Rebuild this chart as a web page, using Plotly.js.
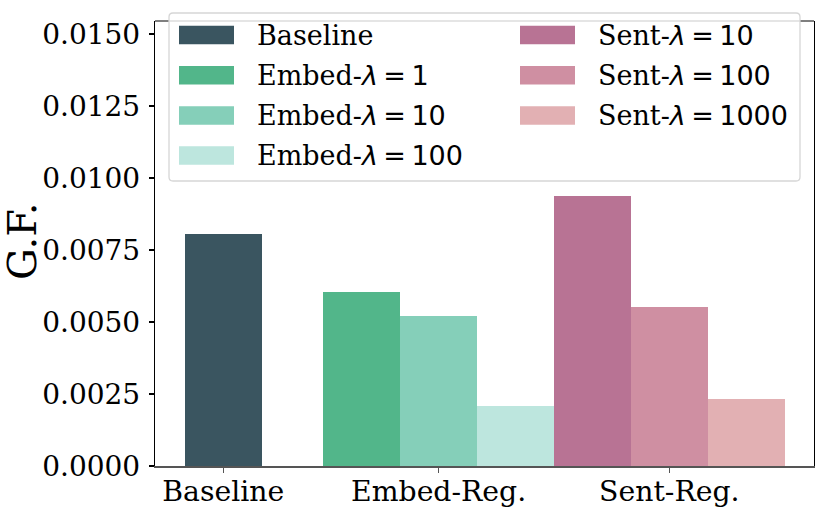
<!DOCTYPE html>
<html>
<head>
<meta charset="utf-8">
<script src="https://cdn.plot.ly/plotly-3.0.1.min.js"></script>
<style>html,body{margin:0;padding:0;background:#fff;}#chart{width:830px;height:519px;}</style>
</head>
<body>
<div id="chart"></div>
<script>
// ---- data ----
const groups = ['Baseline', 'Embed-Reg.', 'Sent-Reg.'];
const baselineLabels = ['Baseline'];
const baselineValues = [0.00807];
const embedLambdas = ['1', '10', '100'];
const embedValues = [0.00604, 0.00522, 0.00210];
const sentLambdas = ['10', '100', '1000'];
const sentValues = [0.00938, 0.00551, 0.00234];
const yTickVals = [0, 0.0025, 0.005, 0.0075, 0.01, 0.0125, 0.015];
const yTitle = 'G.F.';

// ---- styles ----
const baselineColors = ['#3a5560'];
const embedColors = ['#52b68a', '#85cfb9', '#bde6de'];
const sentColors = ['#b87394', '#cf8fa2', '#e2b0b3'];
const FONT = 'DejaVu Serif, serif';
const mathLabel = (prefix, lam) =>
  prefix + "-<span style=\"font-family:'DejaVu Sans'\"><i>λ</i>\u2009=\u2009" + lam + "</span>";
const embedLabels = embedLambdas.map(l => mathLabel('Embed', l));
const sentLabels = sentLambdas.map(l => mathLabel('Sent', l));

// plot frame in pixels
const L = 155, R = 814, T = 21, B = 466;
const px2x = p => (p - L) / (R - L);
const py2y = p => (B - p) / (B - T);

// positions: bar width 1, gap after group
const groupSeries = [
  {labels: baselineLabels, values: baselineValues, colors: baselineColors, legend: 'legend'},
  {labels: embedLabels, values: embedValues, colors: embedColors, legend: 'legend'},
  {labels: sentLabels, values: sentValues, colors: sentColors, legend: 'legend2'}
];
const gapAfter = [0.8, 0, 0];
const traces = [];
const tickVals = [];
let pos = 0;
let k = 0;
groupSeries.forEach((g, gi) => {
  const xs = [];
  g.labels.forEach((lab, i) => {
    xs.push(pos);
    traces.push({
      type: 'bar', x: [pos], y: [g.values[i]], width: [1],
      name: lab, legend: g.legend, legendgroup: 'g' + (k++),
      marker: {color: g.colors[i], line: {width: 0}},
      hoverinfo: 'name+y'
    });
    pos += 1;
  });
  tickVals.push(xs[Math.floor(xs.length / 2)]);
  pos += gapAfter[gi];
});

const unitPx = 76.9;
const firstCenterPx = 223.3;
const xRange = [(L - firstCenterPx) / unitPx, (R - firstCenterPx) / unitPx];

// legend box and swatches as shapes beneath legend text
const shapes = [];
const bx0 = 169, bx1 = 800, by0 = 13, by1 = 181, rr = 4;
const X = px2x, Y = py2y;
shapes.push({
  type: 'path', xref: 'paper', yref: 'paper', layer: 'above',
  path: `M ${X(bx0+rr)},${Y(by0)} L ${X(bx1-rr)},${Y(by0)} Q ${X(bx1)},${Y(by0)} ${X(bx1)},${Y(by0+rr)} L ${X(bx1)},${Y(by1-rr)} Q ${X(bx1)},${Y(by1)} ${X(bx1-rr)},${Y(by1)} L ${X(bx0+rr)},${Y(by1)} Q ${X(bx0)},${Y(by1)} ${X(bx0)},${Y(by1-rr)} L ${X(bx0)},${Y(by0+rr)} Q ${X(bx0)},${Y(by0)} ${X(bx0+rr)},${Y(by0)} Z`,
  fillcolor: 'rgba(255,255,255,0.8)', line: {color: '#d6d6d6', width: 1.3}
});
const rowY = [35, 75.3, 115.5, 155.5];
const col1 = baselineColors.concat(embedColors);
const col2 = sentColors;
col1.forEach((c, i) => shapes.push({type: 'rect', xref: 'paper', yref: 'paper', layer: 'above',
  x0: X(179), x1: X(234), y0: Y(rowY[i] - 9.3), y1: Y(rowY[i] + 9.3), fillcolor: c, line: {width: 0}}));
col2.forEach((c, i) => shapes.push({type: 'rect', xref: 'paper', yref: 'paper', layer: 'above',
  x0: X(520), x1: X(575), y0: Y(rowY[i] - 9.3), y1: Y(rowY[i] + 9.3), fillcolor: c, line: {width: 0}}));
// top spine
shapes.push({type: 'line', xref: 'paper', yref: 'paper', x0: 0, x1: 1, y0: 1, y1: 1, layer: 'below',
  line: {color: '#000', width: 1.2}});

const legendCommon = {
  bgcolor: 'rgba(0,0,0,0)', borderwidth: 0,
  font: {family: FONT, size: 27, color: '#000'},
  itemwidth: 90, itemclick: false, itemdoubleclick: false,
  xanchor: 'left', yanchor: 'top', tracegroupgap: 2
};

const layout = {
  width: 830, height: 519,
  margin: {l: L, r: 830 - R, t: T, b: 519 - B, autoexpand: false},
  paper_bgcolor: '#fff', plot_bgcolor: '#fff',
  barmode: 'overlay', bargap: 0,
  font: {family: FONT, size: 27, color: '#000'},
  showlegend: true,
  legend: Object.assign({}, legendCommon, {x: px2x(157), y: py2y(10.5)}),
  legend2: Object.assign({}, legendCommon, {x: px2x(498), y: py2y(10.5)}),
  xaxis: {
    range: xRange, tickvals: tickVals, ticktext: groups,
    showgrid: false, zeroline: false,
    showline: true, linecolor: '#555', linewidth: 1.5, mirror: false,
    ticks: 'outside', ticklen: 5, tickwidth: 1.2, tickcolor: '#555',
    ticklabelstandoff: -5,
    tickfont: {family: FONT, size: 28.3, color: '#000'}
  },
  yaxis: {
    range: [0, 0.015452], tickvals: yTickVals, tickformat: '.4f',
    showgrid: false, zeroline: false,
    showline: true, linecolor: '#000', linewidth: 1.2, mirror: true,
    ticks: 'outside', ticklen: 5, tickwidth: 1.2, tickcolor: '#000',
    ticklabelstandoff: 3,
    tickfont: {family: FONT, size: 28, color: '#000'}
  },
  annotations: [{
    text: yTitle, xref: 'paper', yref: 'paper', x: px2x(22), y: py2y(242),
    xanchor: 'center', yanchor: 'middle', textangle: -90, showarrow: false,
    font: {family: FONT, size: 40, color: '#000'}
  }],
  shapes: shapes
};

Plotly.newPlot('chart', traces, layout, {staticPlot: true, displayModeBar: false}).then(gd => {
  // the larger swatches are drawn as shapes; hide plotly's small legend symbols
  gd.querySelectorAll('.legendpoints').forEach(el => { el.style.display = 'none'; });
});
</script>
</body>
</html>
